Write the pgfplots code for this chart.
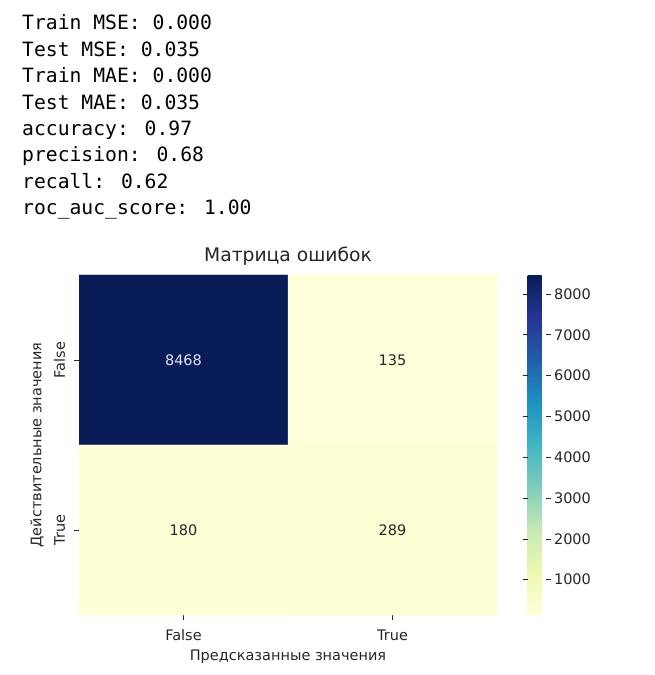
\documentclass[border=0pt]{standalone}
\usepackage{fontspec}
\setmainfont{DejaVu Sans}
\newfontfamily\monofont{DejaVu Sans Mono}
\usepackage{pgfplots}
\pgfplotsset{compat=1.18}
\definecolor{txt}{RGB}{38,38,38}
\pgfplotsset{colormap={ylgnbu}{rgb255=(255,255,217) rgb255=(237,248,177) rgb255=(199,233,180) rgb255=(127,205,187) rgb255=(65,182,196) rgb255=(29,145,192) rgb255=(34,94,168) rgb255=(37,52,148) rgb255=(8,29,88)}}
\begin{document}
\begin{tikzpicture}[x=1bp,y=1bp]
\useasboundingbox (0,0) rectangle (655,675);
\foreach \t [count=\i from 0] in {Train MSE: 0.000, Test MSE: 0.035, Train MAE: 0.000, Test MAE: 0.035, accuracy: 0.97, precision: 0.68, recall: 0.62, roc\_auc\_score: 1.00}
  \node[anchor=base west, inner sep=0, text=black, font=\monofont\fontsize{19.7bp}{24bp}\selectfont] at (22, {645-26.4*\i}) {\t};
\begin{axis}[
  at={(79bp,60bp)}, anchor=south west,
  scale only axis, width=418bp, height=340bp,
  xmin=-0.5, xmax=1.5, ymin=-0.5, ymax=1.5, y dir=reverse,
  enlargelimits=false,
  axis line style={draw=none},
  xtick={0,1}, xticklabels={False,True},
  ytick={0,1}, yticklabels={False,True},
  tick align=outside, major tick length=5bp,
  tick style={color=txt, line width=0.8pt},
  xtick pos=bottom, ytick pos=left,
  tick label style={font=\fontsize{14.5bp}{17bp}\selectfont, text=txt},
  xticklabel style={yshift=-6bp},
  yticklabel style={rotate=90, anchor=base, inner sep=0pt, yshift=9bp},
  title={Матрица ошибок},
  title style={at={(0.5,1)}, anchor=base, yshift=8bp, font=\fontsize{18.7bp}{21bp}\selectfont, text=txt},
  xlabel={Предсказанные значения},
  xlabel style={at={(axis description cs:0.5,0)}, anchor=center, yshift=-42bp, font=\fontsize{14.5bp}{17bp}\selectfont, text=txt},
  ylabel={Действительные значения},
  ylabel style={at={(axis description cs:0,0.5)}, anchor=center, yshift=42bp, font=\fontsize{14.5bp}{17bp}\selectfont, text=txt},
  colormap name=ylgnbu,
  point meta min=135, point meta max=8468,
  colorbar right,
  colorbar style={
    at={(parent axis.north east)}, anchor=north west, xshift=22bp,
    scale only axis, width=18bp,
    ytick={1000,2000,...,8000},
    axis line style={draw=none},
    tick align=outside, major tick length=5bp,
    tick style={color=txt, line width=0.8pt},
    yticklabel style={font=\fontsize{14.5bp}{17bp}\selectfont, text=txt},
    /pgf/number format/1000 sep={},
    /pgf/number format/assume math mode=true,
  },
]
\addplot[matrix plot*, mesh/cols=2, point meta=explicit] table[meta=c] {
x y c
0 0 8468
1 0 135
0 1 180
1 1 289
};
\addplot[only marks, mark=*, mark size=0pt, mark options={draw=none,fill=none},
  point meta=explicit symbolic, nodes near coords, nodes near coords align={center},
  nodes near coords style={font=\fontsize{14.5bp}{17bp}\selectfont, text=white!88!blue, anchor=center}]
  table[meta=l] {
x y l
0 0 8468
};
\addplot[only marks, mark=*, mark size=0pt, mark options={draw=none,fill=none},
  point meta=explicit symbolic, nodes near coords, nodes near coords align={center},
  nodes near coords style={font=\fontsize{14.5bp}{17bp}\selectfont, text=txt, anchor=center}]
  table[meta=l] {
x y l
1 0 135
0 1 180
1 1 289
};
\end{axis}
\end{tikzpicture}
\end{document}
